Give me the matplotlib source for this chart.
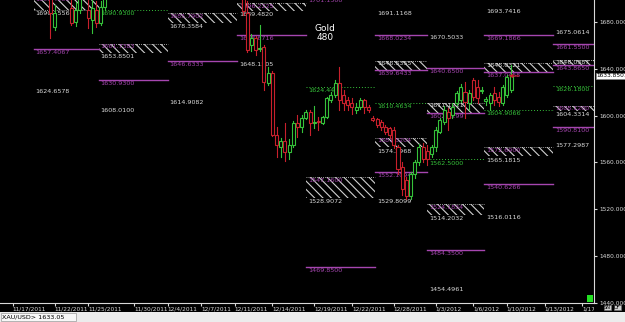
import matplotlib
matplotlib.use("Agg")
import matplotlib.pyplot as plt
from matplotlib.patches import Rectangle

plt.rcParams['font.family'] = ['Liberation Sans Narrow', 'DejaVu Sans']
plt.rcParams['hatch.linewidth'] = 0.8

# candles (bar index, open, high, low, close)
bar = [11, 12, 16, 17, 18, 20, 21, 22, 23, 24] + list(range(57, 122))
o = [1700, 1675.7, 1691.9, 1680, 1690, 1690, 1681.7, 1690, 1679.1, 1692.8,
     1703, 1688, 1660.4, 1666, 1657, 1658.8, 1628.1, 1636.6, 1583.8, 1573.6,
     1577.9, 1568.5, 1575.3, 1594, 1590.6, 1598.3, 1603.4, 1594, 1595.5, 1594,
     1599.1, 1613.6, 1617.9, 1628.1, 1617.9, 1613.6, 1611.1, 1605.1, 1607.7, 1613.6,
     1607.7, 1598.3, 1597.4, 1594.9, 1590.6, 1589, 1588, 1573.6, 1556, 1545,
     1531.1, 1549.8, 1560, 1573.6, 1570, 1566.8, 1572.8, 1586.4, 1594.9, 1603.4,
     1600.9, 1611.1, 1613.6, 1620.4, 1611.1, 1630.6, 1624.7, 1621.3, 1612.8, 1611.1,
     1619.6, 1616.2, 1611.1, 1617.9, 1622.1]
h = [1705, 1694.5, 1699, 1697, 1705, 1700, 1700, 1698, 1698, 1710,
     1710, 1698, 1670, 1668, 1677.4, 1660, 1641.7, 1638, 1590.6, 1581,
     1594, 1579.6, 1595, 1600.9, 1600.9, 1605, 1605.1, 1608.5, 1599, 1600,
     1616, 1620, 1630, 1641.7, 1622, 1616, 1615.3, 1611, 1615, 1614,
     1609, 1600, 1598, 1596, 1592, 1590, 1590, 1575, 1560, 1548,
     1552, 1562, 1576, 1577, 1575, 1575, 1590, 1598, 1608, 1606.8,
     1611, 1621, 1627, 1628.9, 1622, 1632, 1630.6, 1624, 1616, 1619,
     1624, 1620, 1626, 1635, 1643.4]
l = [1666.4, 1673.2, 1677.4, 1676.5, 1688, 1675, 1670.6, 1675.7, 1677.4, 1690,
     1686, 1654, 1655, 1652, 1655, 1622.1, 1626.4, 1583, 1564.3, 1565,
     1560.9, 1562.6, 1573.6, 1582.1, 1586.4, 1597, 1583.8, 1589, 1588, 1593,
     1598, 1612, 1616, 1605.1, 1605, 1605, 1601, 1602.5, 1606, 1602.5,
     1603, 1595, 1590, 1588, 1584, 1581, 1572, 1550, 1532, 1528.5,
     1528.5, 1547, 1558, 1560, 1558, 1565, 1570, 1585, 1593, 1588.1,
     1598, 1609, 1612, 1598.3, 1605, 1613.6, 1611.1, 1619, 1609.4, 1605.1,
     1609, 1608, 1609, 1616, 1620]
c = [1688, 1687.7, 1679.1, 1690, 1700, 1683, 1692, 1679.1, 1692.8, 1705,
     1689, 1656, 1666.4, 1656, 1658, 1628.9, 1636.6, 1583.8, 1575.3, 1577.9,
     1568.5, 1575.3, 1594, 1590.6, 1598.3, 1603.4, 1594, 1594.9, 1594.5, 1599.1,
     1615.3, 1617.9, 1628.1, 1613.6, 1611.1, 1609.4, 1607.7, 1607.7, 1613.6, 1607,
     1605.1, 1596.6, 1592.3, 1590.6, 1586.4, 1583.8, 1575, 1554, 1537, 1531.1,
     1549.8, 1560, 1573.6, 1562.6, 1563, 1572.8, 1588.1, 1596.6, 1605.1, 1598.3,
     1607.7, 1619.6, 1624.7, 1611.9, 1619.6, 1616.2, 1615.3, 1622.1, 1614.5, 1617.9,
     1613.6, 1612, 1624.7, 1633.2, 1633.85]

# weekly columns of levels (bar boundaries)
col_edges = [7, 22.5, 39, 55.5, 72, 88.5, 101, 114.5, 131, 142]

# hatched zones: column, top, bottom, inner text, label under, kind
zone_col = [0, 1, 2, 3, 4, 5, 5, 6, 6, 7, 7, 8, 8]
zone_top = [1702, 1661.3, 1687.7, 1696.2, 1547.2, 1646.8, 1581.3, 1611.1, 1524.3, 1645.1, 1572.8, 1647.7, 1608.5]
zone_bot = [1690.2, 1653.6, 1679.1, 1689.4, 1529.4, 1639.1, 1572.8, 1602.6, 1514.9, 1637.4, 1565.1, 1643.4, 1604.3]
zone_in = ['1698.4100', '1661.7383', '1685.7902', '1696.2225', '1547.1600', '1646.5355', '1581.3204',
           '1611.1221', '1524.1834', '1645.0321', '1572.6900', '1646.0387', '1608.1200']
zone_out = ['1690.1556', '1653.8501', '1678.3584', '1689.4820', '1528.9072', '1639.6433', '1574.3968',
            '1602.1299', '1514.2032', '1637.0458', '1565.1815', '1643.8650', '1604.3314']
zone_kind = ['s', 's', 's', 's', 's', 'd', 's', 'd', 's', 'd', 's', 'd', 's']

# solid pivot lines
line_col = [0, 1, 2, 3, 4, 5, 5, 6, 6, 7, 7, 8, 8]
line_val = [1657.0, 1630.6, 1646.4, 1668.9, 1470.6, 1668.9, 1551.9, 1640.4, 1485.1, 1668.9, 1541.3, 1661.3, 1590.6]
line_txt = ['1657.4067', '1630.9300', '1646.6333', '1668.6716', '1469.8500', '1668.0234', '1552.1094',
            '1640.6500', '1484.3500', '1669.1866', '1540.6266', '1661.5500', '1590.8100']

# dotted lines (green)
dot_col = [1, 4, 5, 6, 7, 8]
dot_val = [1690.2, 1624.7, 1611.1, 1562.6, 1605.1, 1625.5]
dot_txt = ['1690.9300', '1624.4498', '1610.4634', '1562.5000', '1604.9066', '1626.1800']

# plain labels
lab_col = [0, 1, 2, 3, 5, 5, 6, 6, 7, 7, 8, 8, 4]
lab_val = [1623.0, 1606.8, 1613.6, 1646.0, 1689.4, 1528.5, 1669.0, 1453.6, 1691.0, 1514.9, 1673.2, 1576.2, 1700.0]
lab_txt = ['1624.6578', '1608.0100', '1614.9082', '1648.1505', '1691.1168', '1529.8099', '1670.5033',
           '1454.4961', '1693.7416', '1516.0116', '1675.0614', '1577.2987', '1701.1500']

date_pos = [2, 12, 20, 31, 39, 47, 55, 64, 74, 83, 93, 103, 112, 120, 129, 138]
date_lbl = ['11/17/2011', '11/22/2011', '11/25/2011', '11/30/2011', '12/4/2011', '12/7/2011',
            '12/11/2011', '12/14/2011', '12/19/2011', '12/22/2011', '12/28/2011', '1/3/2012',
            '1/6/2012', '1/10/2012', '1/13/2012', '1/17/2012']
price_ticks = [1440, 1480, 1520, 1560, 1600, 1640, 1680]
last_price = 1633.8501
bid = '1633.05'

GREEN = '#36c23a'
RED = '#c8202c'
MAG = '#a646b0'
WHITE = '#dadada'
FS = 4.6

fig = plt.figure(figsize=(6.25, 3.22), dpi=100, facecolor='black')
ax = fig.add_axes([0, 19 / 322, 594 / 625, 303 / 322], facecolor='black')
ax.set_xlim(-1.03, 140.8)
ax.set_ylim(1440.9, 1698.7)

# zones
for k in range(len(zone_col)):
    x0, x1 = col_edges[zone_col[k]], col_edges[zone_col[k] + 1]
    ax.add_patch(Rectangle((x0, zone_bot[k]), x1 - x0, zone_top[k] - zone_bot[k],
                           facecolor='black', edgecolor='#d0d0d0', hatch='\\\\\\\\', lw=0))
    ax.plot([x0, x1], [zone_top[k]] * 2, color='#d0d0d0', lw=0.6, ls=(0, (1, 1.5)))
    inner_c = WHITE if zone_kind[k] == 'd' else MAG
    out_c = MAG if zone_kind[k] == 'd' else WHITE
    if zone_kind[k] == 'd':
        ax.plot([x0, x1], [zone_bot[k]] * 2, color=MAG, lw=1)
    ax.annotate(zone_in[k], (x0, zone_top[k]), xytext=(1.5, -0.5), textcoords='offset points',
                va='top', ha='left', fontsize=FS, color=inner_c, annotation_clip=False)
    ax.annotate(zone_out[k], (x0, zone_bot[k]), xytext=(1.5, -0.8), textcoords='offset points',
                va='top', ha='left', fontsize=FS, color=out_c, annotation_clip=False)

for k in range(len(line_col)):
    x0, x1 = col_edges[line_col[k]], col_edges[line_col[k] + 1]
    ax.plot([x0, x1], [line_val[k]] * 2, color=MAG, lw=1)
    ax.annotate(line_txt[k], (x0, line_val[k]), xytext=(1.5, -0.8), textcoords='offset points',
                va='top', ha='left', fontsize=FS, color=MAG)

for k in range(len(dot_col)):
    x0, x1 = col_edges[dot_col[k]], col_edges[dot_col[k] + 1]
    ax.plot([x0, x1], [dot_val[k]] * 2, color=GREEN, lw=0.7, ls=(0, (1, 2)))
    ax.annotate(dot_txt[k], (x0, dot_val[k]), xytext=(1.5, -0.8), textcoords='offset points',
                va='top', ha='left', fontsize=FS, color=GREEN)
ax.plot([col_edges[0], col_edges[1]], [zone_bot[0]] * 2, color='#d0d0d0', lw=0.6, ls=(0, (1, 1.5)))

for k in range(len(lab_col)):
    x0 = col_edges[lab_col[k]]
    ax.annotate(lab_txt[k], (x0, lab_val[k]), xytext=(1.5, 0), textcoords='offset points',
                va='top', ha='left', fontsize=FS, color=MAG if k == len(lab_col) - 1 else WHITE,
                annotation_clip=False)

# candles
for i in range(len(bar)):
    col = GREEN if c[i] >= o[i] else RED
    ax.plot([bar[i], bar[i]], [l[i], h[i]], color=col, lw=0.8, zorder=5)
    lo, hi = min(o[i], c[i]), max(o[i], c[i])
    ax.add_patch(Rectangle((bar[i] - 0.36, lo), 0.72, max(hi - lo, 0.6),
                           facecolor='black', edgecolor=col, lw=0.8, zorder=6))

ax.annotate('', xy=(119.8, last_price), xytext=(123.5, last_price),
            arrowprops=dict(arrowstyle='-|>', color=RED, lw=0.8, mutation_scale=5), zorder=7)
ax.text(76.5, 1670.6, 'Gold\n480', color='white', fontsize=6.5, ha='center', va='center',
        family='DejaVu Sans', linespacing=1.0)

# axes styling
for s in ['top', 'left']:
    ax.spines[s].set_visible(False)
ax.spines['right'].set_color('#d8d8d8')
ax.spines['bottom'].set_color('#d8d8d8')
ax.yaxis.tick_right()
ax.set_yticks(price_ticks)
ax.set_yticklabels(['%.4f' % p for p in price_ticks])
ax.tick_params(axis='y', colors='#d8d8d8', labelsize=4.2, length=2, pad=2)
ax.set_xticks(date_pos)
ax.set_xticklabels([])
ax.tick_params(axis='x', colors='#d8d8d8', length=2, direction='out')

clip = Rectangle((0, 0), 594 / 625, 1, transform=fig.transFigure)
for p, t in zip(date_pos, date_lbl):
    tx = ax.text(p, -0.012, t, transform=ax.get_xaxis_transform(), ha='left', va='top',
                 fontsize=4.2, color=WHITE, clip_on=True)
    tx.set_clip_path(clip)

ax.text(1.004, last_price, '%.4f' % last_price, transform=ax.get_yaxis_transform(),
        ha='left', va='center', fontsize=4.2, color='black',
        bbox=dict(boxstyle='square,pad=0.12', facecolor='white', edgecolor='#888888', lw=0.5))

# status bar
fig.patches.append(Rectangle((0, 0), 1, 10 / 322, transform=fig.transFigure,
                             facecolor='#ececec', edgecolor='none'))
fig.patches.append(Rectangle((0.002, 0.003), 75 / 625, 8 / 322, transform=fig.transFigure,
                             facecolor='#f8f8f8', edgecolor='#999999', lw=0.5))
fig.text(0.004, 5 / 322, 'XAU/USD> ' + bid, fontsize=4.6, color='black', va='center', ha='left')
fig.text(604 / 625, 14.5 / 322, 'SN', fontsize=3.6, color='black', va='center', ha='left',
         bbox=dict(boxstyle='square,pad=0.08', facecolor='#cfcfcf', edgecolor='#777777', lw=0.4))
fig.text(614 / 625, 14.5 / 322, 'DF', fontsize=3.6, color='black', va='center', ha='left',
         bbox=dict(boxstyle='square,pad=0.08', facecolor='#cfcfcf', edgecolor='#777777', lw=0.4))
fig.patches.append(Rectangle((587 / 625, 20 / 322), 6 / 625, 7 / 322, transform=fig.transFigure,
                             facecolor='#22e022', edgecolor='none'))

fig.savefig('out.png', dpi=100, facecolor='black')
